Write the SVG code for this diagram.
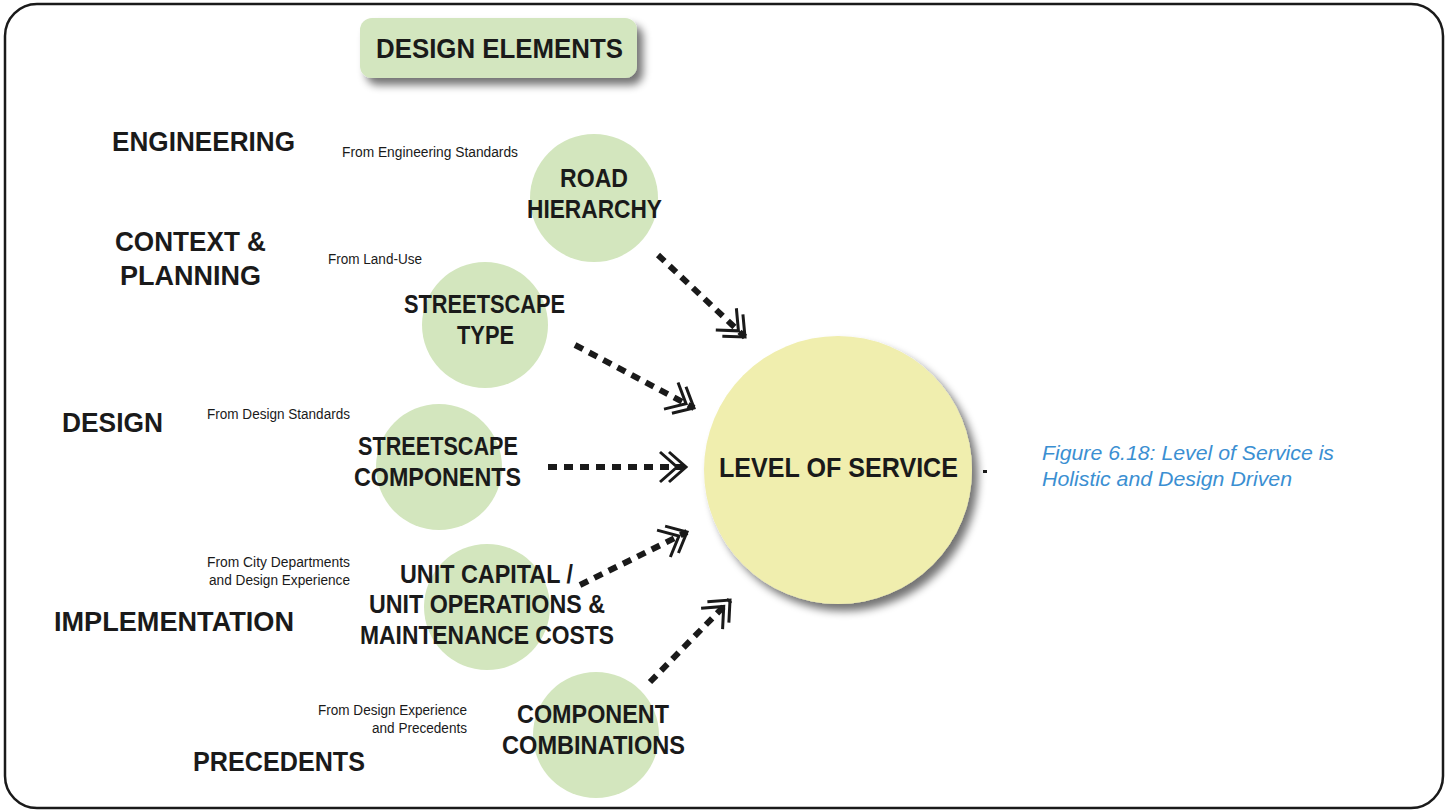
<svg xmlns="http://www.w3.org/2000/svg" width="1447" height="810" viewBox="0 0 1447 810">
<defs>
<filter id="sh" x="-20%" y="-20%" width="150%" height="150%">
<feGaussianBlur in="SourceAlpha" stdDeviation="4"/>
<feOffset dx="6" dy="7" result="b"/>
<feComponentTransfer><feFuncA type="linear" slope="0.55"/></feComponentTransfer>
<feMerge><feMergeNode/><feMergeNode in="SourceGraphic"/></feMerge>
</filter>
<marker id="chev" markerUnits="userSpaceOnUse" markerWidth="40" markerHeight="40" viewBox="-32 -20 40 40" refX="0" refY="0" orient="auto">
<path d="M-26,-15 L-9,0 L-26,15 M-17,-15 L0,0 L-17,15" fill="none" stroke="#1a1a1a" stroke-width="3" stroke-linejoin="miter"/>
</marker>
<style>
.cat{font-family:"Liberation Sans",Arial,sans-serif;font-weight:bold;font-size:27px;fill:#1a1a1a}
.lab{font-family:"Liberation Sans",Arial,sans-serif;font-weight:bold;font-size:25.5px;fill:#1a1a1a;text-anchor:middle}
.src{font-family:"Liberation Sans",Arial,sans-serif;font-size:14px;fill:#1a1a1a}
.g{fill:#d3e6be}
.con{fill:none;stroke:#1a1a1a;stroke-width:6;stroke-dasharray:9 7}
.cap{font-family:"Liberation Sans",Arial,sans-serif;font-style:italic;font-size:20.5px;fill:#3b8fd2}
</style>
</defs>
<rect x="0" y="0" width="1447" height="810" fill="#ffffff"/>
<rect x="5" y="4" width="1438" height="804" rx="32" ry="32" fill="none" stroke="#1a1a1a" stroke-width="2.5"/>

<g id="design-elements">
<rect x="360" y="18" width="277" height="60" rx="12" ry="12" fill="#d3e6bf" filter="url(#sh)"/>
<text class="cat" x="499.5" y="58" text-anchor="middle" style="font-size:28px" textLength="247" lengthAdjust="spacingAndGlyphs">DESIGN ELEMENTS</text>
</g>

<g id="categories">
<text class="cat" x="112" y="151" textLength="183" lengthAdjust="spacingAndGlyphs">ENGINEERING</text>
<text class="cat" x="115" y="251" textLength="151" lengthAdjust="spacingAndGlyphs">CONTEXT &amp;</text>
<text class="cat" x="120" y="285" textLength="141" lengthAdjust="spacingAndGlyphs">PLANNING</text>
<text class="cat" x="62" y="432" textLength="101" lengthAdjust="spacingAndGlyphs">DESIGN</text>
<text class="cat" x="54" y="631" textLength="240" lengthAdjust="spacingAndGlyphs">IMPLEMENTATION</text>
<text class="cat" x="193" y="771" textLength="172" lengthAdjust="spacingAndGlyphs">PRECEDENTS</text>
</g>

<g id="sources">
<text class="src" x="342" y="157" textLength="176" lengthAdjust="spacingAndGlyphs">From Engineering Standards</text>
<text class="src" x="328" y="264" textLength="94" lengthAdjust="spacingAndGlyphs">From Land-Use</text>
<text class="src" x="207" y="419" textLength="143" lengthAdjust="spacingAndGlyphs">From Design Standards</text>
<text class="src" x="207" y="567" textLength="143" lengthAdjust="spacingAndGlyphs">From City Departments</text>
<text class="src" x="209" y="585" textLength="141" lengthAdjust="spacingAndGlyphs">and Design Experience</text>
<text class="src" x="318" y="715" textLength="149" lengthAdjust="spacingAndGlyphs">From Design Experience</text>
<text class="src" x="372" y="733" textLength="95" lengthAdjust="spacingAndGlyphs">and Precedents</text>
</g>

<g id="road-hierarchy">
<circle class="g" cx="594" cy="198" r="64"/>
<text class="lab" x="594" y="187" textLength="68" lengthAdjust="spacingAndGlyphs">ROAD</text>
<text class="lab" x="594.5" y="218" textLength="135" lengthAdjust="spacingAndGlyphs">HIERARCHY</text>
</g>
<g id="streetscape-type">
<circle class="g" cx="485" cy="325" r="63"/>
<text class="lab" x="484.5" y="313" textLength="161" lengthAdjust="spacingAndGlyphs">STREETSCAPE</text>
<text class="lab" x="485.5" y="344" textLength="57" lengthAdjust="spacingAndGlyphs">TYPE</text>
</g>
<g id="streetscape-components">
<circle class="g" cx="439" cy="467" r="63"/>
<text class="lab" x="438" y="455" textLength="160" lengthAdjust="spacingAndGlyphs">STREETSCAPE</text>
<text class="lab" x="437.5" y="486" textLength="167" lengthAdjust="spacingAndGlyphs">COMPONENTS</text>
</g>
<g id="unit-costs">
<circle class="g" cx="487" cy="607" r="63"/>
<text class="lab" x="486.5" y="583" textLength="173" lengthAdjust="spacingAndGlyphs">UNIT CAPITAL /</text>
<text class="lab" x="487" y="613" textLength="236" lengthAdjust="spacingAndGlyphs">UNIT OPERATIONS &amp;</text>
<text class="lab" x="487" y="644" textLength="254" lengthAdjust="spacingAndGlyphs">MAINTENANCE COSTS</text>
</g>
<g id="component-combinations">
<circle class="g" cx="596" cy="735" r="63"/>
<text class="lab" x="593" y="723" textLength="152" lengthAdjust="spacingAndGlyphs">COMPONENT</text>
<text class="lab" x="593.5" y="754" textLength="183" lengthAdjust="spacingAndGlyphs">COMBINATIONS</text>
</g>

<g id="level-of-service">
<circle cx="838" cy="470" r="134" fill="#f0eeae" filter="url(#sh)"/>
<text class="cat" x="838.5" y="477" text-anchor="middle" style="font-size:28px" textLength="239" lengthAdjust="spacingAndGlyphs">LEVEL OF SERVICE</text>
</g>

<g id="connectors">
<line class="con" x1="658" y1="255" x2="745" y2="337" marker-end="url(#chev)"/>
<line class="con" x1="575" y1="345" x2="694" y2="408" marker-end="url(#chev)"/>
<line class="con" x1="548" y1="467" x2="686" y2="467" marker-end="url(#chev)"/>
<line class="con" x1="580" y1="585" x2="687" y2="532" marker-end="url(#chev)"/>
<line class="con" x1="650" y1="682" x2="730" y2="600" marker-end="url(#chev)"/>
<rect x="983" y="470" width="4" height="3" fill="#1a1a1a"/>
</g>

<g id="caption">
<text class="cap" x="1042" y="460" textLength="292" lengthAdjust="spacingAndGlyphs">Figure 6.18: Level of Service is</text>
<text class="cap" x="1042" y="486" textLength="250" lengthAdjust="spacingAndGlyphs">Holistic and Design Driven</text>
</g>
</svg>
